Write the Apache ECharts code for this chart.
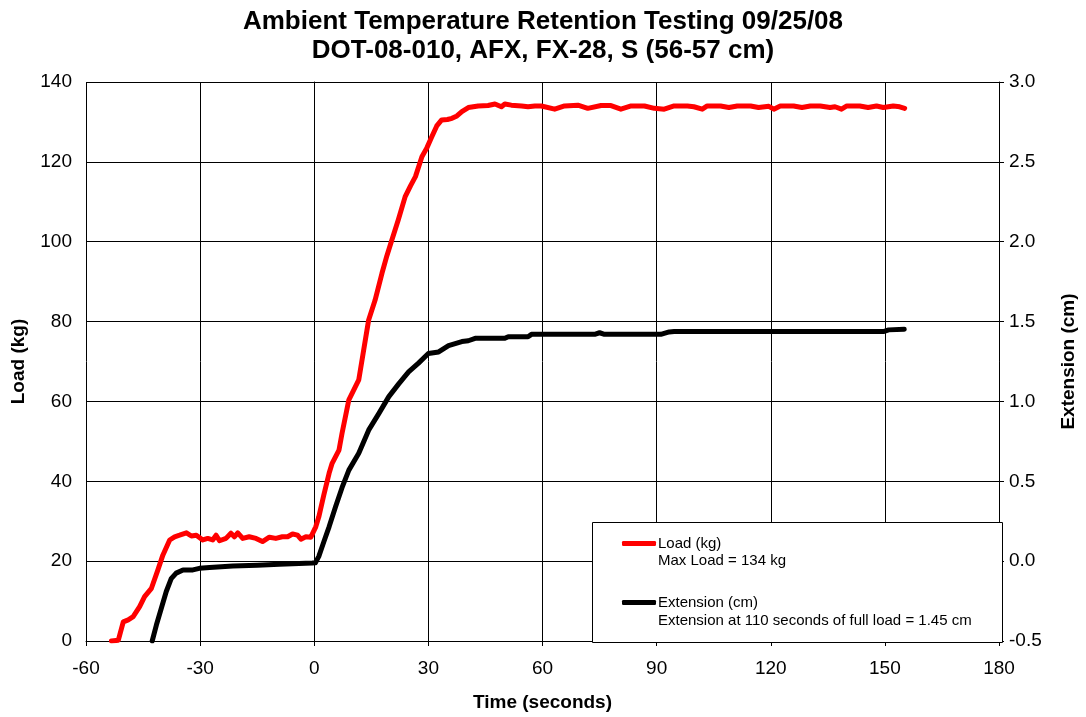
<!DOCTYPE html>
<html>
<head>
<meta charset="utf-8">
<script src="https://cdn.jsdelivr.net/npm/echarts@6/dist/echarts.min.js"></script>
<style>html,body{margin:0;padding:0;background:#fff}#c{width:1086px;height:717px}</style>
</head>
<body>
<div id="c"></div>
<script>
// Time ticks
const xTicks = [-60, -30, 0, 30, 60, 90, 120, 150, 180];
const loadTicks = [0, 20, 40, 60, 80, 100, 120, 140];
const extTicks = [-0.5, 0.0, 0.5, 1.0, 1.5, 2.0, 2.5, 3.0];

// Load (kg) vs time (s)
const loadTime = [-53.3,-51.5,-50.2,-48.9,-47.6,-45.9,-44.6,-42.8,-41.1,-39.8,-38.0,-36.7,-35.4,-33.6,-32.3,-31.0,-29.3,-28.0,-26.7,-25.8,-24.9,-23.2,-21.9,-21.0,-20.1,-18.8,-17.1,-15.3,-13.6,-11.8,-10.1,-8.4,-7.0,-5.7,-4.4,-3.5,-2.2,-0.9,-0.5,0.4,1.2,2.5,3.9,4.7,6.5,7.3,9.1,10.4,11.7,13.0,14.3,16.0,17.8,19.1,20.4,22.1,23.9,25.3,26.6,28.3,29.6,30.9,32.2,33.5,35.0,36.2,37.5,38.8,40.5,43.1,45.7,47.5,49.2,50.1,51.8,54.5,56.2,58.0,59.7,63.2,65.8,69.3,71.9,75.4,78.0,80.6,83.3,86.8,89.4,92.0,94.6,98.1,99.8,102.0,103.3,106.8,109.0,111.2,114.7,116.8,119.5,120.8,122.5,126.0,128.2,130.4,133.0,135.6,136.9,138.6,140.0,143.4,145.6,147.8,149.6,152.2,153.9,155.2];
const loadKg = [0,0.2,4.8,5.3,6.1,8.6,11.1,13.2,17.8,21.5,25.3,26.1,26.5,27.1,26.3,26.5,25.3,25.7,25.3,26.5,25.1,25.7,27.0,26.1,27.1,25.7,26.1,25.7,24.9,26.0,25.7,26.1,26.1,26.8,26.5,25.5,26.1,26.0,26.5,28.6,31.1,36.5,42.0,44.5,47.8,52.0,60.4,62.9,65.4,72.9,80.4,85.4,92.1,96.5,100.4,105.5,111.3,114.0,116.3,121.3,123.5,126.3,129.0,130.5,130.6,130.9,131.5,132.6,133.6,134.0,134.1,134.5,133.8,134.5,134.2,134.0,133.8,134.0,134.0,133.2,134.0,134.2,133.4,134.1,134.1,133.2,134.0,134.0,133.4,133.2,134.0,134.0,133.8,133.2,134.0,134.0,133.6,134.0,134.0,133.6,133.9,133.2,134.0,134.0,133.6,134.0,134.0,133.6,133.8,133.2,134.0,134.0,133.6,134.0,133.6,134.0,133.8,133.4];

// Extension (cm) vs time (s)
const extTime = [-42.6,-41.5,-40.2,-38.9,-37.6,-36.3,-34.5,-31.9,-30.2,-27.5,-21.4,-15.0,-9.2,-0.5,0.3,1.2,2.5,3.9,5.6,7.3,9.1,11.7,14.3,17.0,19.6,22.2,24.8,27.4,30.0,32.7,35.3,38.8,40.5,42.3,50.1,51.0,56.2,57.1,73.7,75.0,76.3,91.1,93.3,94.6,149.6,151.0,155.1];
const extCm = [-0.5,-0.4,-0.295,-0.19,-0.11,-0.075,-0.055,-0.055,-0.045,-0.04,-0.03,-0.025,-0.02,-0.012,-0.01,0.03,0.12,0.215,0.34,0.46,0.57,0.675,0.82,0.925,1.03,1.11,1.185,1.24,1.30,1.31,1.35,1.375,1.38,1.395,1.395,1.405,1.405,1.42,1.42,1.43,1.42,1.42,1.435,1.4375,1.4375,1.448,1.452];

const loadName = 'Load (kg)';
const extName = 'Extension (cm)';
const loadNote = 'Max Load = 134 kg';
const extNote = 'Extension at 110 seconds of full load = 1.45 cm';

const FONT = 'Liberation Sans, Arial, sans-serif';
const chart = echarts.init(document.getElementById('c'));
const axisLine = {show: true, lineStyle: {color: '#000', width: 1}};
const nameStyle = {fontSize: 19, fontWeight: 'bold', color: '#000', fontFamily: FONT};
chart.setOption({
  animation: false,
  backgroundColor: '#fff',
  textStyle: {fontFamily: FONT},
  title: {
    text: 'Ambient Temperature Retention Testing 09/25/08\nDOT-08-010, AFX, FX-28, S (56-57 cm)',
    left: 'center', top: 2,
    textStyle: {fontSize: 26, fontWeight: 'bold', color: '#000', lineHeight: 29, fontFamily: FONT}
  },
  grid: {left: 86, right: 83, top: 82, bottom: 76},
  legend: {
    orient: 'vertical', left: 617, top: 531, z: 10,
    itemWidth: 34, itemHeight: 5, itemGap: 44, icon: 'roundRect',
    textStyle: {fontSize: 15, color: '#000', fontFamily: FONT, padding: [0,0,0,-3]},
    data: [loadName, extName]
  },
  graphic: [
    {type: 'rect', z: 5, shape: {x: 592.5, y: 522.5, width: 410, height: 120}, style: {fill: '#fff', stroke: '#000', lineWidth: 1}},
    {type: 'text', z: 11, left: 658, top: 553, style: {text: loadNote, fontSize: 15, fill: '#000', fontFamily: FONT}},
    {type: 'text', z: 11, left: 658, top: 613, style: {text: extNote, fontSize: 15, fill: '#000', fontFamily: FONT}}
  ],
  xAxis: {
    type: 'value', min: xTicks[0], max: xTicks[xTicks.length-1], interval: 30,
    name: 'Time (seconds)', nameLocation: 'middle', nameGap: 52, nameTextStyle: nameStyle,
    axisLine: axisLine, axisTick: {show: true, length: 5, lineStyle: {color: '#000'}},
    axisLabel: {fontSize: 19, color: '#000', margin: 18, fontFamily: FONT},
    splitLine: {show: true, lineStyle: {color: '#000', width: 1}}
  },
  yAxis: [
    {
      type: 'value', min: loadTicks[0], max: loadTicks[loadTicks.length-1], interval: 20,
      name: 'Load (kg)', nameLocation: 'middle', nameGap: 58, nameRotate: 90, nameTextStyle: nameStyle,
      axisLine: axisLine, axisTick: {show: true, length: 5, lineStyle: {color: '#000'}},
      axisLabel: {fontSize: 19, color: '#000', margin: 14, fontFamily: FONT},
      splitLine: {show: true, lineStyle: {color: '#000', width: 1}}
    },
    {
      type: 'value', position: 'right', min: extTicks[0], max: extTicks[extTicks.length-1], interval: 0.5,
      name: 'Extension (cm)', nameLocation: 'middle', nameGap: 60, nameRotate: 90, nameTextStyle: nameStyle,
      axisLine: axisLine, axisTick: {show: true, length: 5, lineStyle: {color: '#000'}},
      axisLabel: {fontSize: 19, color: '#000', margin: 10, fontFamily: FONT, formatter: v => v.toFixed(1)},
      splitLine: {show: false}
    }
  ],
  series: [
    {
      name: loadName, type: 'line', yAxisIndex: 0, showSymbol: false, symbol: 'none', z: 3,
      lineStyle: {color: '#ff0000', width: 5, cap: 'round', join: 'round'},
      itemStyle: {color: '#ff0000'},
      data: loadTime.map((t, i) => [t, loadKg[i]])
    },
    {
      name: extName, type: 'line', yAxisIndex: 1, showSymbol: false, symbol: 'none', z: 3,
      lineStyle: {color: '#000000', width: 5, cap: 'round', join: 'round'},
      itemStyle: {color: '#000000'},
      data: extTime.map((t, i) => [t, extCm[i]])
    }
  ]
});
</script>
</body>
</html>
